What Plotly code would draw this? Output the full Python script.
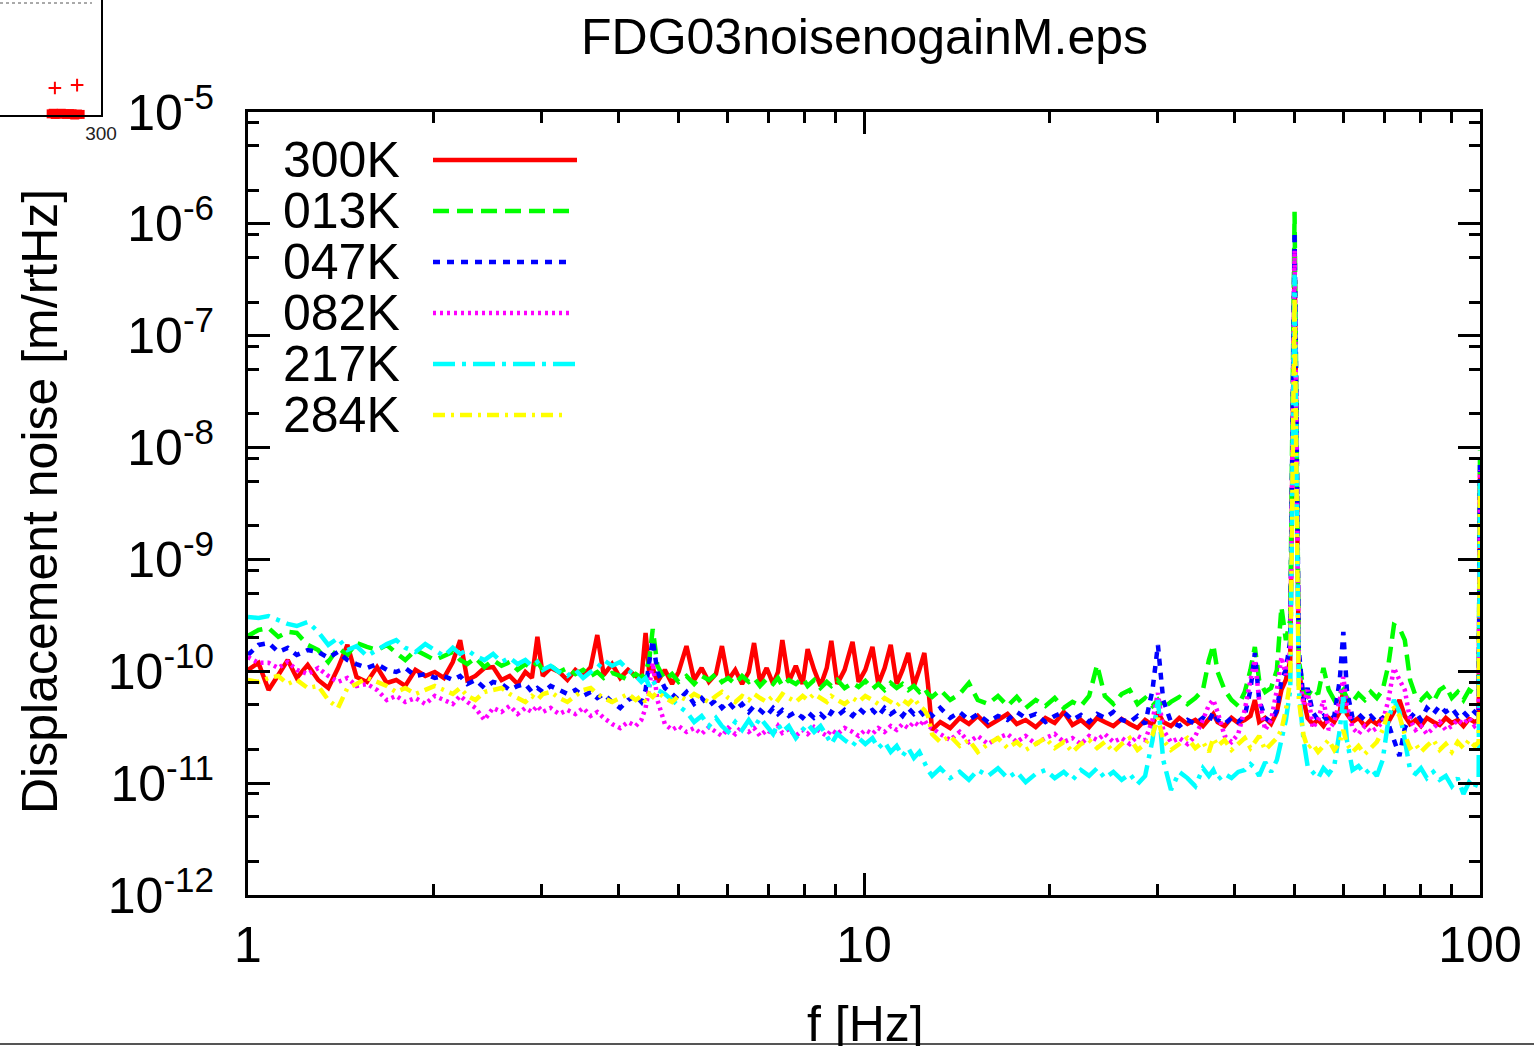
import plotly.graph_objects as go

# ---------------- data ----------------
freq_hz = [
    1.00, 1.04, 1.08, 1.12, 1.16, 1.20, 1.25, 1.30, 1.35, 1.40, 1.45, 1.50,
    1.56, 1.62, 1.68, 1.74, 1.80, 1.87, 1.94, 2.01, 2.08, 2.15,
    2.21, 2.27, 2.34, 2.42, 2.50, 2.58, 2.66, 2.74, 2.82, 2.89, 2.95,
    3.01, 3.10, 3.20, 3.30, 3.40, 3.50, 3.60, 3.69,
    3.78, 3.90, 4.02, 4.14, 4.26, 4.35, 4.42, 4.48, 4.54,
    4.62, 4.75, 4.88, 5.00, 5.15, 5.30, 5.45, 5.60, 5.75, 5.88,
    6.02, 6.18, 6.34, 6.50, 6.63, 6.78, 6.95, 7.12, 7.25, 7.37,
    7.55, 7.75, 7.95, 8.10, 8.30, 8.50, 8.70, 8.85,
    9.05, 9.30, 9.58, 9.80, 10.05, 10.32,
    10.55, 10.80, 11.05, 11.30, 11.55, 11.80, 12.05, 12.30, 12.53, 12.70,
    12.90, 13.30, 13.80, 14.30, 14.80, 15.30, 15.90, 16.50, 17.10, 17.70,
    18.30, 19.00, 19.70, 20.40, 21.10, 21.80, 22.50, 23.20, 23.90, 24.60,
    25.40, 26.20, 27.00, 27.80, 28.60, 29.40, 30.00, 30.60, 31.50, 32.50,
    33.50, 34.50, 35.50, 36.30, 36.90, 37.50, 38.50, 39.50, 40.50, 41.50,
    42.40, 43.10, 43.80, 44.80, 45.80, 46.80, 47.60, 48.40, 49.20, 50.00,
    50.80, 51.70, 52.50, 53.50, 54.60, 55.70, 56.80, 58.00, 59.20, 60.00,
    60.80, 62.10, 63.50, 65.00, 66.50, 68.00, 69.50, 71.00, 72.50, 74.00,
    75.50, 77.00, 78.60, 80.20, 82.00, 84.00, 86.00, 88.00, 90.00, 92.00,
    94.00, 96.00, 98.00, 99.50, 100.00,
]

noise_300K = [
    1.03e-10, 1.19e-10, 6.81e-11, 9.27e-11, 1.26e-10, 8.72e-11, 1.14e-10, 8.36e-11, 7.09e-11, 1.07e-10,
    1.72e-10, 8.9e-11, 8.03e-11, 1.09e-10, 7.86e-11, 8.36e-11, 7.39e-11, 1.03e-10, 9.08e-11, 9.86e-11,
    8.72e-11, 1.21e-10, 1.90e-10, 8.36e-11, 9.08e-11, 1.07e-10, 1.09e-10, 8.36e-11, 9.08e-11, 7.70e-11,
    9.86e-11, 8.72e-11, 2.03e-10, 9.08e-11, 1.07e-10, 9.86e-11, 8.36e-11, 1.03e-10, 9.08e-11, 1.09e-10,
    2.11e-10, 9.27e-11, 1.16e-10, 8.72e-11, 1.03e-10, 9.08e-11, 8.36e-11, 2.20e-10, 9.86e-11, 1.07e-10,
    8.03e-11, 1.03e-10, 7.70e-11, 9.86e-11, 1.68e-10, 8.36e-11, 1.07e-10, 8.03e-11, 9.46e-11, 1.68e-10,
    8.36e-11, 1.03e-10, 7.70e-11, 9.86e-11, 1.79e-10, 8.03e-11, 1.07e-10, 7.70e-11, 9.86e-11, 1.90e-10,
    8.03e-11, 1.12e-10, 7.70e-11, 1.58e-10, 1.03e-10, 7.39e-11, 1.07e-10, 1.87e-10, 7.70e-11, 1.03e-10,
    1.83e-10, 8.03e-11, 1.03e-10, 1.65e-10, 7.70e-11, 1.07e-10, 1.72e-10, 7.70e-11, 1.03e-10, 1.46e-10,
    7.39e-11, 1.03e-10, 1.46e-10, 7.70e-11,
    2.99e-11, 3.52e-11, 3.11e-11, 3.83e-11, 3.38e-11, 3.99e-11, 3.24e-11, 3.67e-11, 4.15e-11, 3.38e-11,
    3.67e-11, 3.17e-11, 3.83e-11, 3.45e-11, 4.33e-11, 3.31e-11, 3.67e-11, 3.17e-11, 3.83e-11, 3.52e-11,
    3.24e-11, 3.75e-11, 3.38e-11, 3.11e-11, 3.67e-11, 3.31e-11, 4.33e-11, 3.52e-11, 3.24e-11, 3.83e-11,
    3.38e-11, 3.67e-11, 3.24e-11, 3.75e-11, 4.15e-11, 3.52e-11, 3.24e-11, 3.83e-11, 3.45e-11, 3.67e-11,
    3.99e-11, 5.54e-11, 3.52e-11, 3.83e-11, 3.38e-11, 4.33e-11, 6.81e-11, 8.36e-11, 1.26e-10, 5.0e-7,
    1.03e-10, 5.54e-11, 3.83e-11, 3.38e-11, 3.67e-11, 3.24e-11, 3.83e-11, 3.52e-11, 4.33e-11, 6.81e-11,
    4.15e-11, 3.52e-11, 3.83e-11, 3.24e-11, 3.67e-11, 3.38e-11, 3.83e-11, 3.52e-11, 4.33e-11, 5.54e-11,
    3.99e-11, 3.38e-11, 3.67e-11, 3.24e-11, 3.83e-11, 3.52e-11, 3.31e-11, 3.83e-11, 3.45e-11, 3.67e-11,
    3.24e-11, 3.75e-11, 3.52e-11, 3.67e-11, 6.0e-9,
]

noise_013K = [
    2.07e-10, 2.34e-10, 2.44e-10, 2.03e-10, 2.25e-10, 2.20e-10, 1.72e-10, 1.55e-10, 1.21e-10, 1.62e-10,
    1.40e-10, 1.79e-10, 1.65e-10, 1.55e-10, 1.72e-10, 1.46e-10, 1.26e-10, 1.55e-10, 1.40e-10, 1.26e-10,
    1.37e-10, 1.49e-10, 1.26e-10, 1.16e-10, 1.32e-10, 1.09e-10, 1.26e-10, 1.12e-10, 1.21e-10, 1.03e-10,
    1.16e-10, 1.07e-10, 1.21e-10, 1.03e-10, 1.12e-10, 9.86e-11, 1.07e-10, 9.46e-11, 1.03e-10, 9.08e-11,
    9.86e-11, 8.72e-11, 9.66e-11, 9.08e-11, 8.36e-11, 9.46e-11, 8.72e-11, 9.86e-11, 1.26e-10, 2.39e-10,
    1.12e-10, 8.36e-11, 9.46e-11, 8.03e-11, 9.08e-11, 7.70e-11, 9.08e-11, 8.36e-11, 9.46e-11, 8.03e-11,
    8.72e-11, 7.70e-11, 9.08e-11, 8.03e-11, 8.72e-11, 7.39e-11, 8.54e-11, 7.70e-11, 8.72e-11, 7.39e-11,
    8.36e-11, 7.70e-11, 8.72e-11, 7.39e-11, 8.36e-11, 7.09e-11, 8.03e-11, 7.39e-11, 8.36e-11, 7.09e-11,
    7.86e-11, 7.24e-11, 8.19e-11, 6.95e-11, 7.70e-11, 6.81e-11, 7.86e-11, 7.09e-11, 7.70e-11, 6.81e-11,
    7.39e-11, 6.53e-11, 7.09e-11, 6.27e-11,
    5.9e-11, 6.81e-11, 5.54e-11, 6.27e-11, 7.86e-11, 5.54e-11, 5.10e-11, 6.02e-11, 4.90e-11, 5.9e-11,
    4.70e-11, 5.54e-11, 4.90e-11, 5.77e-11, 4.70e-11, 5.32e-11, 4.90e-11, 6.02e-11, 1.14e-10, 6.02e-11,
    5.10e-11, 6.27e-11, 6.81e-11, 5.10e-11, 5.77e-11, 4.90e-11, 5.54e-11, 4.70e-11, 5.32e-11, 5.9e-11,
    5.10e-11, 5.77e-11, 6.81e-11, 1.26e-10, 1.72e-10, 9.86e-11, 6.81e-11, 5.54e-11, 4.90e-11, 6.53e-11,
    1.03e-10, 1.65e-10, 8.36e-11, 6.53e-11, 7.09e-11, 1.03e-10, 3.76e-10, 1.90e-10, 2.87e-10, 1.28e-6,
    1.26e-10, 6.81e-11, 6.02e-11, 7.09e-11, 6.27e-11, 1.07e-10, 6.81e-11, 5.54e-11, 6.27e-11, 6.81e-11,
    5.77e-11, 5.32e-11, 6.27e-11, 5.54e-11, 6.53e-11, 5.77e-11, 6.81e-11, 1.14e-10, 2.59e-10, 2.44e-10,
    1.90e-10, 8.36e-11, 6.02e-11, 5.54e-11, 6.27e-11, 5.32e-11, 6.81e-11, 7.39e-11, 5.77e-11, 6.53e-11,
    5.54e-11, 6.81e-11, 6.27e-11, 6.81e-11, 9.5e-9,
]

noise_047K = [
    1.40e-10, 1.72e-10, 1.79e-10, 1.49e-10, 1.62e-10, 1.40e-10, 1.55e-10, 1.49e-10, 1.32e-10, 1.49e-10,
    1.26e-10, 1.16e-10, 1.07e-10, 1.16e-10, 1.03e-10, 9.86e-11, 1.07e-10, 9.08e-11, 9.46e-11, 8.72e-11,
    9.08e-11, 8.36e-11, 9.08e-11, 7.70e-11, 8.36e-11, 7.09e-11, 8.03e-11, 7.70e-11, 6.81e-11, 7.39e-11,
    7.70e-11, 6.53e-11, 7.09e-11, 6.53e-11, 7.39e-11, 6.81e-11, 6.27e-11, 6.81e-11, 6.02e-11, 6.53e-11,
    5.77e-11, 6.27e-11, 5.32e-11, 4.70e-11, 5.54e-11, 6.02e-11, 5.32e-11, 6.81e-11, 1.21e-10, 1.90e-10,
    9.86e-11, 7.09e-11, 6.27e-11, 5.54e-11, 6.53e-11, 5.10e-11, 5.77e-11, 4.90e-11, 5.54e-11, 4.70e-11,
    5.32e-11, 4.51e-11, 5.10e-11, 4.33e-11, 4.90e-11, 4.51e-11, 3.99e-11, 4.70e-11, 4.15e-11, 4.51e-11,
    3.99e-11, 4.33e-11, 3.83e-11, 4.33e-11, 3.83e-11, 4.15e-11, 3.67e-11, 4.33e-11, 3.99e-11, 4.51e-11,
    3.99e-11, 4.70e-11, 4.15e-11, 4.51e-11, 3.99e-11, 4.70e-11, 4.15e-11, 4.51e-11, 3.99e-11, 4.70e-11,
    4.15e-11, 4.51e-11, 3.99e-11, 4.33e-11,
    3.99e-11, 4.70e-11, 3.83e-11, 4.33e-11, 3.67e-11, 4.15e-11, 3.52e-11, 3.99e-11, 3.67e-11, 4.33e-11,
    3.83e-11, 4.15e-11, 3.52e-11, 3.99e-11, 4.33e-11, 3.67e-11, 4.07e-11, 3.52e-11, 4.15e-11, 3.83e-11,
    4.33e-11, 3.67e-11, 3.52e-11, 3.99e-11, 3.38e-11, 6.81e-11, 1.72e-10, 5.54e-11, 3.52e-11, 3.24e-11,
    3.67e-11, 3.38e-11, 3.83e-11, 3.52e-11, 4.33e-11, 3.67e-11, 3.38e-11, 3.83e-11, 3.52e-11, 3.99e-11,
    6.81e-11, 1.46e-10, 5.54e-11, 3.83e-11, 3.52e-11, 4.51e-11, 8.36e-11, 1.03e-10, 1.90e-10, 8.5e-7,
    1.55e-10, 5.54e-11, 7.09e-11, 4.33e-11, 3.67e-11, 3.99e-11, 3.52e-11, 3.99e-11, 8.36e-11, 2.25e-10,
    6.81e-11, 3.83e-11, 4.15e-11, 3.67e-11, 3.99e-11, 3.52e-11, 3.83e-11, 3.38e-11, 2.43e-11, 1.75e-11,
    3.11e-11, 3.83e-11, 4.33e-11, 3.67e-11, 4.70e-11, 4.15e-11, 4.90e-11, 4.33e-11, 4.70e-11, 3.99e-11,
    4.33e-11, 3.83e-11, 4.33e-11, 3.99e-11, 7.7e-9,
]

noise_082K = [
    1.34e-10, 1.19e-10, 1.19e-10, 1.07e-10, 1.21e-10, 1.03e-10, 9.46e-11, 1.07e-10, 9.08e-11, 8.03e-11,
    8.72e-11, 7.39e-11, 7.70e-11, 6.81e-11, 5.54e-11, 6.02e-11, 5.32e-11, 5.77e-11, 5.10e-11, 6.02e-11,
    5.54e-11, 5.10e-11, 6.02e-11, 5.32e-11, 4.70e-11, 3.67e-11, 4.70e-11, 4.33e-11, 4.90e-11, 4.15e-11,
    4.70e-11, 4.33e-11, 4.90e-11, 4.33e-11, 4.70e-11, 4.15e-11, 4.51e-11, 4.15e-11, 4.70e-11, 3.99e-11,
    4.33e-11, 3.83e-11, 3.38e-11, 3.11e-11, 3.52e-11, 3.24e-11, 3.67e-11, 4.70e-11, 7.09e-11, 1.19e-10,
    5.54e-11, 3.38e-11, 2.99e-11, 3.24e-11, 2.87e-11, 3.11e-11, 2.75e-11, 3.17e-11, 2.87e-11, 2.64e-11,
    3.11e-11, 2.75e-11, 3.24e-11, 2.87e-11, 3.11e-11, 2.64e-11, 2.99e-11, 2.75e-11, 3.24e-11, 2.81e-11,
    3.05e-11, 2.64e-11, 2.99e-11, 2.75e-11, 3.17e-11, 2.87e-11, 2.64e-11, 2.99e-11, 2.75e-11, 3.11e-11,
    2.87e-11, 2.64e-11, 2.99e-11, 2.75e-11, 3.11e-11, 2.87e-11, 3.24e-11, 2.99e-11, 3.38e-11, 3.11e-11,
    3.52e-11, 3.24e-11, 3.67e-11, 3.24e-11,
    3.11e-11, 2.75e-11, 2.43e-11, 2.87e-11, 2.33e-11, 2.64e-11, 2.24e-11, 2.53e-11, 2.75e-11, 2.33e-11,
    2.64e-11, 2.24e-11, 2.53e-11, 2.75e-11, 2.33e-11, 2.53e-11, 2.24e-11, 2.64e-11, 2.43e-11, 2.75e-11,
    2.33e-11, 2.53e-11, 2.24e-11, 2.64e-11, 2.43e-11, 3.67e-11, 6.4e-11, 2.99e-11, 2.33e-11, 2.53e-11,
    2.24e-11, 2.64e-11, 3.67e-11, 5.0e-11, 5.54e-11, 4.33e-11, 2.64e-11, 2.33e-11, 2.75e-11, 4.51e-11,
    8.36e-11, 1.26e-10, 5.54e-11, 2.99e-11, 3.67e-11, 6.81e-11, 1.34e-10, 9.27e-11, 1.55e-10, 5.8e-7,
    1.03e-10, 5.0e-11, 6.81e-11, 3.11e-11, 3.67e-11, 5.54e-11, 2.99e-11, 3.52e-11, 5.54e-11, 8.9e-11,
    5.0e-11, 3.11e-11, 2.75e-11, 3.24e-11, 2.87e-11, 3.11e-11, 3.52e-11, 5.54e-11, 1.07e-10, 8.36e-11,
    6.81e-11, 3.67e-11, 2.99e-11, 3.24e-11, 2.75e-11, 3.11e-11, 3.52e-11, 2.99e-11, 3.24e-11, 3.67e-11,
    3.38e-11, 3.83e-11, 3.24e-11, 3.52e-11, 6.3e-9,
]

noise_217K = [
    3.06e-10, 3.00e-10, 3.12e-10, 2.87e-10, 2.65e-10, 2.54e-10, 2.76e-10, 2.25e-10, 1.72e-10, 1.98e-10,
    1.55e-10, 1.68e-10, 1.37e-10, 1.55e-10, 1.75e-10, 1.90e-10, 1.62e-10, 1.49e-10, 1.75e-10, 1.55e-10,
    1.37e-10, 1.62e-10, 1.43e-10, 1.55e-10, 1.37e-10, 1.26e-10, 1.43e-10, 1.21e-10, 1.32e-10, 1.16e-10,
    1.26e-10, 1.12e-10, 1.21e-10, 1.03e-10, 1.12e-10, 9.86e-11, 9.08e-11, 1.03e-10, 8.72e-11, 9.86e-11,
    1.07e-10, 1.26e-10, 1.12e-10, 1.21e-10, 1.03e-10, 9.08e-11, 8.03e-11, 8.72e-11, 7.39e-11, 8.36e-11,
    6.81e-11, 6.27e-11, 5.54e-11, 4.90e-11, 4.33e-11, 3.52e-11, 3.99e-11, 3.24e-11, 3.83e-11, 3.24e-11,
    2.87e-11, 3.52e-11, 2.99e-11, 3.67e-11, 3.11e-11, 3.83e-11, 3.24e-11, 2.75e-11, 3.38e-11, 2.87e-11,
    3.24e-11, 2.53e-11, 2.99e-11, 3.38e-11, 2.87e-11, 3.24e-11, 2.64e-11, 2.24e-11, 2.75e-11, 2.43e-11,
    2.15e-11, 2.53e-11, 2.24e-11, 2.53e-11, 2.06e-11, 2.33e-11, 1.90e-11, 2.15e-11, 1.75e-11, 2.06e-11,
    1.68e-11, 1.90e-11, 1.54e-11, 1.31e-11,
    1.16e-11, 1.36e-11, 1.11e-11, 1.26e-11, 1.07e-11, 1.31e-11, 1.16e-11, 1.36e-11, 1.11e-11, 1.26e-11,
    1.02e-11, 1.21e-11, 1.31e-11, 1.11e-11, 1.26e-11, 1.07e-11, 1.31e-11, 1.16e-11, 1.36e-11, 1.11e-11,
    1.26e-11, 1.07e-11, 1.21e-11, 9.8e-12, 1.16e-11, 2.43e-11, 5.54e-11, 1.61e-11, 8.68e-12, 1.26e-11,
    1.11e-11, 9.4e-12, 1.36e-11, 1.16e-11, 1.31e-11, 1.07e-11, 1.21e-11, 1.11e-11, 1.26e-11, 1.31e-11,
    1.48e-11, 1.36e-11, 1.16e-11, 1.54e-11, 1.26e-11, 1.61e-11, 2.43e-11, 3.67e-11, 6.81e-11, 3.5e-7,
    6.81e-11, 2.43e-11, 1.42e-11, 1.26e-11, 1.11e-11, 1.36e-11, 1.21e-11, 1.42e-11, 2.99e-11, 5.9e-11,
    2.43e-11, 1.31e-11, 1.42e-11, 1.21e-11, 1.36e-11, 1.16e-11, 1.61e-11, 3.67e-11, 5.54e-11, 4.33e-11,
    2.43e-11, 1.31e-11, 1.21e-11, 1.36e-11, 1.11e-11, 1.26e-11, 1.07e-11, 1.16e-11, 9.4e-12, 1.11e-11,
    8.0e-12, 1.02e-11, 9.05e-12, 1.11e-11, 5.1e-9,
]

noise_284K = [
    8.36e-11, 8.03e-11, 8.72e-11, 9.08e-11, 7.70e-11, 8.36e-11, 7.09e-11, 7.39e-11, 5.54e-11, 4.70e-11,
    7.09e-11, 7.70e-11, 8.72e-11, 8.03e-11, 7.39e-11, 6.53e-11, 7.09e-11, 6.27e-11, 6.81e-11, 7.39e-11,
    6.81e-11, 6.27e-11, 7.09e-11, 6.02e-11, 5.54e-11, 6.53e-11, 6.81e-11, 7.09e-11, 6.27e-11, 5.77e-11,
    5.32e-11, 6.02e-11, 5.54e-11, 6.27e-11, 6.53e-11, 5.77e-11, 5.32e-11, 6.02e-11, 6.81e-11, 7.09e-11,
    6.27e-11, 5.77e-11, 5.32e-11, 5.77e-11, 6.27e-11, 5.54e-11, 6.02e-11, 5.32e-11, 6.27e-11, 5.9e-11,
    6.53e-11, 5.77e-11, 5.32e-11, 6.02e-11, 5.54e-11, 6.27e-11, 5.77e-11, 5.32e-11, 6.02e-11, 6.53e-11,
    5.77e-11, 5.32e-11, 6.02e-11, 5.54e-11, 6.27e-11, 5.77e-11, 5.32e-11, 6.02e-11, 5.54e-11, 6.27e-11,
    5.77e-11, 5.32e-11, 6.02e-11, 5.54e-11, 6.27e-11, 5.77e-11, 5.32e-11, 6.02e-11, 5.54e-11, 5.10e-11,
    5.77e-11, 5.32e-11, 6.02e-11, 5.54e-11, 5.10e-11, 5.77e-11, 5.32e-11, 4.90e-11, 5.54e-11, 5.10e-11,
    5.77e-11, 4.90e-11, 4.51e-11, 3.99e-11,
    2.75e-11, 2.33e-11, 2.64e-11, 2.15e-11, 2.43e-11, 1.90e-11, 2.24e-11, 2.53e-11, 2.06e-11, 2.33e-11,
    1.98e-11, 2.24e-11, 2.53e-11, 2.06e-11, 2.33e-11, 1.90e-11, 2.24e-11, 2.43e-11, 2.06e-11, 2.33e-11,
    1.90e-11, 2.24e-11, 2.53e-11, 1.98e-11, 2.24e-11, 2.70e-11, 3.83e-11, 2.43e-11, 1.98e-11, 2.24e-11,
    2.53e-11, 2.06e-11, 2.33e-11, 1.90e-11, 2.53e-11, 2.15e-11, 2.43e-11, 1.98e-11, 2.24e-11, 2.53e-11,
    2.06e-11, 2.33e-11, 2.64e-11, 1.98e-11, 2.24e-11, 2.53e-11, 2.99e-11, 4.51e-11, 8.36e-11, 2.2e-7,
    5.54e-11, 2.70e-11, 2.06e-11, 2.24e-11, 1.90e-11, 2.15e-11, 2.43e-11, 1.98e-11, 2.33e-11, 2.99e-11,
    2.24e-11, 1.90e-11, 2.15e-11, 1.82e-11, 2.06e-11, 2.33e-11, 2.99e-11, 4.33e-11, 4.70e-11, 3.99e-11,
    2.70e-11, 2.06e-11, 2.24e-11, 1.90e-11, 2.15e-11, 2.43e-11, 1.98e-11, 2.24e-11, 1.90e-11, 2.33e-11,
    2.06e-11, 2.43e-11, 2.15e-11, 2.33e-11, 4.2e-9,
]

series_names = ["300K", "013K", "047K", "082K", "217K", "284K"]
series_values = [noise_300K, noise_013K, noise_047K, noise_082K, noise_217K, noise_284K]

x_tick_vals = [1, 10, 100]
x_tick_text = ["1", "10", "100"]
x_minor_vals = [2, 3, 4, 5, 6, 7, 8, 9, 20, 30, 40, 50, 60, 70, 80, 90]
y_tick_vals = [1e-12, 1e-11, 1e-10, 1e-9, 1e-8, 1e-7, 1e-6, 1e-5]
y_tick_text = ["10<sup>-12</sup>", "10<sup>-11</sup>", "10<sup>-10</sup>", "10<sup>-9</sup>",
               "10<sup>-8</sup>", "10<sup>-7</sup>", "10<sup>-6</sup>", "10<sup>-5</sup>"]
y_minor_vals = [2e-12, 5e-12, 8e-12, 2e-11, 5e-11, 8e-11, 2e-10, 5e-10, 8e-10,
                2e-9, 5e-9, 8e-9, 2e-8, 5e-8, 8e-8, 2e-7, 5e-7, 8e-7, 2e-6, 5e-6, 8e-6]

# fragment of a neighbouring chart in the top-left corner
inset_plus_x = [163, 229]
inset_plus_y = [2.35, 2.6]
inset_blob_x = [152, 158, 164, 170, 176, 182, 190, 198, 206, 214, 222, 230, 238]
inset_blob_y = [0.1, 0.15, 0.05, 0.12, 0.08, 0.15, 0.1, 0.05, 0.12, 0.1, 0.0, 0.08, 0.05]

for v in series_values:
    assert len(v) == len(freq_hz), (len(v), len(freq_hz))

# ---------------- styling ----------------
colors = ["#ff0000", "#00ff00", "#0000ff", "#ff00ff", "#00ffff", "#ffff00"]
dashes = ["solid", "16px,8px", "7px,7px", "3px,4px", "22px,7px,4px,7px", "12px,6px,3px,6px"]
FONT = "Liberation Sans, Arial, Helvetica, sans-serif"

W, H = 1534, 1046
PW, PH = 1480, 895          # paper area (margins: l=0, t=0, r=54, b=151)


def px(xp):
    return xp / PW


def py(yp):
    return (PH - yp) / PH


fig = go.Figure()
for name, vals, col, dash in zip(series_names, series_values, colors, dashes):
    fig.add_trace(go.Scatter(
        x=freq_hz, y=vals, mode="lines", name=name, showlegend=False,
        line=dict(color=col, width=4.5, dash=dash, simplify=False),
        xaxis="x", yaxis="y"))

# inset fragment
fig.add_trace(go.Scatter(x=inset_blob_x, y=inset_blob_y, mode="markers", showlegend=False,
                         marker=dict(symbol="square", size=9, color="#ff0000"),
                         xaxis="x2", yaxis="y2", cliponaxis=False))
fig.add_trace(go.Scatter(x=inset_plus_x, y=inset_plus_y, mode="markers", showlegend=False,
                         marker=dict(symbol="cross-thin", size=9, color="#ff0000",
                                     line=dict(color="#ff0000", width=2)),
                         xaxis="x2", yaxis="y2", cliponaxis=False))

axis_common = dict(showline=True, linecolor="black", linewidth=3, mirror="allticks",
                   ticks="inside", ticklen=22, tickwidth=3, tickcolor="black",
                   showgrid=False, zeroline=False, automargin=False,
                   tickfont=dict(family=FONT, size=50, color="black"))

fig.update_layout(
    template="none",
    width=W, height=H,
    margin=dict(l=0, r=W - PW, t=0, b=H - PH, pad=0, autoexpand=False),
    paper_bgcolor="white", plot_bgcolor="white",
    font=dict(family=FONT, color="black"),
    showlegend=False,
    xaxis=dict(type="log", range=[0, 2], domain=[248 / PW, 1], anchor="y",
               tickmode="array", tickvals=x_tick_vals, ticktext=x_tick_text,
               ticklabelstandoff=4,
               minor=dict(tickmode="array", tickvals=x_minor_vals, ticks="inside",
                          ticklen=11, tickwidth=3, tickcolor="black", showgrid=False),
               **axis_common),
    yaxis=dict(type="log", range=[-12, -5], domain=[0, py(112)], anchor="x",
               tickmode="array", tickvals=y_tick_vals, ticktext=y_tick_text,
               ticklabelstandoff=21,
               minor=dict(tickmode="array", tickvals=y_minor_vals, ticks="inside",
                          ticklen=11, tickwidth=3, tickcolor="black", showgrid=False),
               **axis_common),
    xaxis2=dict(range=[0, 300], domain=[0, px(101)], anchor="y2", automargin=False,
                showline=True, linecolor="black", linewidth=2, ticks="",
                tickmode="array", tickvals=[300], ticktext=["300"],
                tickfont=dict(family=FONT, size=19, color="#222222"),
                showgrid=False, zeroline=False),
    yaxis2=dict(range=[0, 10], domain=[py(115), 1], anchor="x2", side="right",
                automargin=False,
                showline=True, linecolor="black", linewidth=2,
                ticks="inside", ticklen=8, tickwidth=2, tickcolor="black",
                tickmode="array", tickvals=[10], showticklabels=False,
                showgrid=False, zeroline=False),
)

annotations = [
    dict(text="FDG03noisenogainM.eps", x=px(864), y=py(37), xref="paper", yref="paper",
         xanchor="center", yanchor="middle", showarrow=False,
         font=dict(family=FONT, size=50, color="black")),
    dict(text="Displacement noise [m/rtHz]", x=px(40), y=py(502), xref="paper", yref="paper",
         xanchor="center", yanchor="middle", textangle=-90, showarrow=False,
         font=dict(family=FONT, size=50, color="black")),
    dict(text="f [Hz]", x=px(865), y=py(1024), xref="paper", yref="paper",
         xanchor="center", yanchor="middle", showarrow=False,
         font=dict(family=FONT, size=50, color="black")),
]
shapes = []
legend_rows = [160, 211, 262, 313, 364, 415]
legend_ends = [577, 577, 567, 573, 575, 567]
for name, col, dash, row, xend in zip(series_names, colors, dashes, legend_rows, legend_ends):
    annotations.append(dict(text=name, x=px(281), y=py(row), xref="paper", yref="paper",
                            xanchor="left", yanchor="middle", showarrow=False,
                            font=dict(family=FONT, size=50, color="black")))
    shapes.append(dict(type="line", xref="paper", yref="paper",
                       x0=px(433), x1=px(xend), y0=py(row), y1=py(row),
                       line=dict(color=col, width=4.5, dash=dash)))

# dashed top edge of the neighbouring fragment and the page edge at the bottom
shapes.append(dict(type="line", xref="paper", yref="paper", x0=0, x1=px(92),
                   y0=py(3), y1=py(3), line=dict(color="#555555", width=1, dash="3px,3px")))
shapes.append(dict(type="line", xref="paper", yref="paper", x0=0, x1=W / PW,
                   y0=py(1044), y1=py(1044), line=dict(color="#555555", width=2)))

fig.update_layout(annotations=annotations, shapes=shapes)
fig.write_html("out.html")
